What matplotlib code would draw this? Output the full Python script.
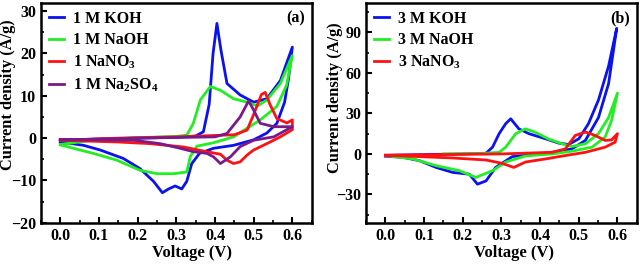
import numpy as np
import matplotlib
matplotlib.use('Agg')
import matplotlib.pyplot as plt
from matplotlib.ticker import MultipleLocator

plt.rcParams['font.family'] = 'Liberation Serif'
plt.rcParams['font.weight'] = 'bold'
plt.rcParams['mathtext.fontset'] = 'custom'
plt.rcParams['mathtext.bf'] = 'Liberation Serif:bold'
plt.rcParams['mathtext.rm'] = 'Liberation Serif:bold'
plt.rcParams['mathtext.default'] = 'bf'

# ---- panel (a): 1 M electrolytes (forward scan then reverse scan) ----
koh1_v = [0.0, 0.1, 0.2, 0.3, 0.35, 0.37, 0.385, 0.395, 0.405, 0.415, 0.431, 0.465, 0.5, 0.534, 0.569, 0.6,
          0.59, 0.58, 0.56, 0.534, 0.5, 0.448, 0.396, 0.36, 0.34, 0.327, 0.314, 0.297, 0.28, 0.264, 0.241,
          0.206, 0.163, 0.103, 0.06, 0.0]
koh1_i = [-0.5, -0.2, 0.0, 0.2, 0.5, 1.5, 8.0, 20.0, 27.1, 21.0, 12.9, 10.2, 8.5, 9.3, 13.6, 21.5,
          14.0, 8.5, 3.5, 1.2, -0.4, -1.7, -2.4, -3.6, -6.0, -10.2, -12.0, -11.3, -12.0, -12.9, -10.2,
          -7.2, -4.8, -2.8, -1.7, -0.9]

naoh1_v = [0.0, 0.1, 0.2, 0.3, 0.327, 0.344, 0.362, 0.388, 0.414, 0.448, 0.483, 0.51, 0.534, 0.569, 0.6,
           0.585, 0.56, 0.517, 0.448, 0.396, 0.353, 0.336, 0.327, 0.293, 0.25, 0.206, 0.146, 0.085, 0.0]
naoh1_i = [-1.5, -0.3, 0.1, 0.4, 0.7, 3.5, 9.0, 12.2, 11.3, 9.3, 8.5, 7.6, 9.0, 12.9, 19.5,
           12.5, 7.5, 4.3, 0.3, -1.1, -1.9, -4.4, -8.0, -8.4, -8.4, -7.6, -5.2, -3.6, -1.6]

nano1_v = [0.0, 0.15, 0.3, 0.45, 0.483, 0.5, 0.52, 0.53, 0.542, 0.56, 0.586, 0.6,
           0.6, 0.569, 0.534, 0.5, 0.483, 0.465, 0.448, 0.431, 0.414, 0.396, 0.362, 0.319, 0.232, 0.146, 0.0]
nano1_i = [-0.5, 0.0, 0.3, 0.8, 1.9, 5.6, 10.3, 10.8, 8.0, 4.6, 3.6, 4.3,
           2.0, 0.3, -1.3, -2.8, -4.0, -5.6, -6.0, -5.2, -3.8, -3.5, -2.9, -2.1, -1.3, -0.9, -0.5]

naso1_v = [0.0, 0.2, 0.4, 0.431, 0.465, 0.487, 0.5, 0.517, 0.552, 0.6,
           0.552, 0.5, 0.465, 0.44, 0.414, 0.396, 0.379, 0.344, 0.31, 0.258, 0.19, 0.0]
naso1_i = [-0.5, 0.0, 0.3, 1.1, 5.0, 8.8, 6.6, 3.5, 2.7, 2.7,
           0.3, -0.5, -2.0, -4.4, -6.0, -4.4, -3.6, -3.2, -2.4, -1.3, -0.5, -0.3]

# ---- panel (b): 3 M electrolytes ----
koh3_v = [0.0, 0.1, 0.2, 0.26, 0.277, 0.294, 0.311, 0.324, 0.345, 0.371, 0.414, 0.448, 0.474, 0.5, 0.525,
          0.551, 0.577, 0.598,
          0.577, 0.551, 0.517, 0.482, 0.431, 0.38, 0.328, 0.285, 0.26, 0.238, 0.217, 0.174, 0.131, 0.088,
          0.045, 0.0]
koh3_i = [-1.0, -0.5, 0.0, 0.5, 5.0, 15.0, 22.4, 26.0, 18.6, 15.0, 11.2, 8.0, 7.0, 11.2, 22.4,
          40.0, 65.0, 93.0,
          52.0, 27.0, 10.0, 3.7, 1.2, -0.5, -2.0, -10.0, -20.0, -22.4, -15.0, -13.7, -10.0, -5.0,
          -2.5, -1.7]

naoh3_v = [0.15, 0.25, 0.294, 0.311, 0.337, 0.362, 0.388, 0.422, 0.457, 0.482, 0.517, 0.551, 0.577, 0.6,
           0.585, 0.568, 0.534, 0.482, 0.431, 0.362, 0.311, 0.277, 0.234, 0.191, 0.131, 0.071, 0.0]
naoh3_i = [0.0, 0.3, 1.2, 5.0, 15.0, 18.6, 16.0, 11.0, 7.5, 5.5, 7.5, 15.0, 27.0, 45.0,
           25.0, 12.4, 5.0, 2.0, 0.0, -1.5, -6.0, -12.4, -17.4, -12.4, -8.7, -3.7, -1.2]

nano3_v = [0.0, 0.15, 0.3, 0.431, 0.465, 0.491, 0.517, 0.542, 0.568, 0.585, 0.6,
           0.594, 0.568, 0.517, 0.465, 0.414, 0.362, 0.332, 0.302, 0.26, 0.174, 0.088, 0.0]
nano3_i = [-1.0, -0.5, 0.0, 1.2, 3.7, 13.7, 16.2, 13.7, 10.0, 10.4, 15.0,
           8.7, 5.0, 1.2, -1.2, -3.7, -6.0, -10.0, -7.0, -4.5, -3.0, -2.0, -1.0]

fs = 11.5
fig = plt.figure(figsize=(6.4, 2.64), dpi=100)
ax1 = fig.add_axes([0.064, 0.156, 0.423, 0.834])
ax2 = fig.add_axes([0.572, 0.156, 0.423, 0.834])

lw = 2.0
ax1.plot(koh1_v, koh1_i, color='#0a12f0', lw=lw, label='1 M KOH')
ax1.plot(naoh1_v, naoh1_i, color='#22ee22', lw=lw, label='1 M NaOH')
ax1.plot(nano1_v, nano1_i, color='#ff1111', lw=lw, label='1 NaNO$_3$')
ax1.plot(naso1_v, naso1_i, color='#7a1a8a', lw=lw, label='1 M Na$_2$SO$_4$')

ax2.plot(koh3_v, koh3_i, color='#0a12f0', lw=lw, label='3 M KOH')
ax2.plot(naoh3_v, naoh3_i, color='#22ee22', lw=lw, label='3 M NaOH')
ax2.plot(nano3_v, nano3_i, color='#ff1111', lw=lw, label='3 NaNO$_3$')

ax1.set_xlim(-0.05, 0.65)
ax1.set_ylim(-20, 32)
ax1.yaxis.set_major_locator(MultipleLocator(10))
ax1.yaxis.set_minor_locator(MultipleLocator(5))

ax2.set_xlim(-0.05, 0.65)
ax2.set_ylim(-51, 112)
ax2.yaxis.set_major_locator(MultipleLocator(30))
ax2.yaxis.set_minor_locator(MultipleLocator(15))

label_pos = {ax1: ((0.558, -0.1), (-0.092, 0.58)),
             ax2: ((0.548, -0.1), (-0.085, 0.57))}

for ax, tag in [(ax1, '(a)'), (ax2, '(b)')]:
    ax.xaxis.set_major_locator(MultipleLocator(0.1))
    ax.xaxis.set_minor_locator(MultipleLocator(0.05))
    ax.tick_params(which='both', direction='in', labelsize=fs, top=False, right=False)
    ax.tick_params(which='major', length=4, width=1.5)
    ax.tick_params(which='minor', length=2.5, width=1.2)
    for sp in ax.spines.values():
        sp.set_linewidth(1.8)
    ax.set_xlabel('Voltage (V)', fontsize=fs + 0.5, fontweight='bold')
    ax.set_ylabel('Current density (A/g)', fontsize=fs + 0.3, fontweight='bold')
    xl, yl = label_pos[ax]
    ax.xaxis.set_label_coords(*xl)
    ax.yaxis.set_label_coords(*yl)
    ax.text(0.975, 0.965, tag, transform=ax.transAxes, ha='right', va='top', fontsize=fs, fontweight='bold')
    ax.legend(loc='upper left', frameon=False, fontsize=fs, handlelength=0.95, handletextpad=0.55,
              labelspacing=0.35, borderaxespad=0.3, borderpad=0.2)
    for t in ax.get_xticklabels() + ax.get_yticklabels():
        t.set_fontweight('bold')

fig.savefig('out.png', dpi=100)
